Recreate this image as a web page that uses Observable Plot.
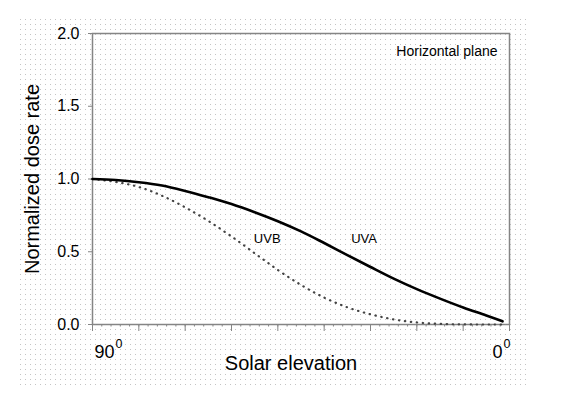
<!DOCTYPE html>
<html><head><meta charset="utf-8">
<script src="https://cdn.jsdelivr.net/npm/d3@7"></script>
<script src="https://cdn.jsdelivr.net/npm/@observablehq/plot@0.6"></script>
<style>
html,body{margin:0;padding:0;background:#fff;}
#wrap{position:relative;width:572px;height:395px;overflow:hidden;}
#dots{position:absolute;left:20px;top:19px;width:506px;height:368px;
  background-image:url("data:image/svg+xml,%3Csvg xmlns='http://www.w3.org/2000/svg' width='5' height='5'%3E%3Crect width='1' height='1' fill='%23c4c4c4'/%3E%3C/svg%3E");}
#chart{position:absolute;left:0;top:0;}
</style></head><body>
<div id="wrap"><div id="dots"></div><div id="chart"></div></div>
<script>
// Solar elevation (degrees) and normalized dose rate
const uvaElevation = [90, 85, 80, 75, 70, 65, 60, 55, 50, 45, 40, 35, 30, 25, 20, 15, 10, 5, 1.5];
const uvaRate      = [1.0, 0.993, 0.978, 0.955, 0.918, 0.875, 0.828, 0.772, 0.71, 0.64, 0.56, 0.477, 0.395, 0.315, 0.243, 0.178, 0.117, 0.062, 0.022];
const uvbElevation = [90, 85, 80, 75, 70, 65, 60, 55, 50, 45, 40, 35, 30, 25, 20, 15, 10, 5, 1.5];
const uvbRate      = [1.0, 0.98, 0.945, 0.885, 0.805, 0.712, 0.605, 0.49, 0.375, 0.272, 0.185, 0.118, 0.07, 0.035, 0.014, 0.004, 0.001, 0, 0];

const seriesLabels = ["UVB", "UVA"];
const labelElevation = [52.3, 31.4];
const labelRate = [0.59, 0.59];

const yTicks = [0, 0.5, 1.0, 1.5, 2.0];
const xMajorTicks = [90, 80, 70, 60, 50, 40, 30, 20, 10, 0];
const xMinorTicks = d3.range(0, 91, 2);
const xLabelStart = [90];
const xLabelEnd = [0];
const panelNote = "Horizontal plane";
const xTitle = "Solar elevation";
const yTitle = "Normalized dose rate";

const uva = uvaElevation.map((e, i) => ({e, v: uvaRate[i]}));
const uvb = uvbElevation.map((e, i) => ({e, v: uvbRate[i]}));
const labels = seriesLabels.map((t, i) => ({t, e: labelElevation[i], v: labelRate[i]}));

const font = "Liberation Sans, Arial, Helvetica, sans-serif";
const axisGray = "#858585";

const svg = Plot.plot({
  width: 572,
  height: 395,
  marginLeft: 92,
  marginRight: 63,
  marginTop: 33,
  marginBottom: 71,
  style: {background: "transparent", fontFamily: font, color: "#000", overflow: "visible"},
  x: {domain: [90, 0], label: null},
  y: {domain: [0, 2], label: null},
  marks: [
    Plot.frame({stroke: axisGray, strokeWidth: 1.5}),
    Plot.axisY(yTicks, {
      tickSize: 4, tickPadding: 9, stroke: axisGray, fontSize: 16,
      tickFormat: d3.format(".1f"), label: null
    }),
    Plot.axisY([], {
      tickSize: 0, fontSize: 20,
      label: yTitle, labelAnchor: "center", labelOffset: 68, labelArrow: "none"
    }),
    Plot.axisX(xMinorTicks, {tickSize: 2.5, stroke: axisGray, tickFormat: () => "", label: null}),
    Plot.axisX(xMajorTicks, {tickSize: 7, stroke: axisGray, tickFormat: () => "", label: null}),
    Plot.axisX(xLabelStart, {tickSize: 0, tickPadding: 21, textAnchor: "start", dx: 2, fontSize: 18, tickFormat: d => String(d), label: null}),
    Plot.axisX(xLabelEnd, {tickSize: 0, tickPadding: 21, textAnchor: "end", dx: 1, fontSize: 18, tickFormat: d => String(d), label: null}),
    Plot.text([xTitle], {frameAnchor: "bottom", lineAnchor: "top", dx: -10, dy: 31, fontSize: 20, fill: "#000"}),
    Plot.text([panelNote], {frameAnchor: "top-right", dx: -12, dy: 13, fontSize: 14, fill: "#000"}),
    Plot.line(uvb, {x: "e", y: "v", curve: "monotone-x", stroke: "#444", strokeWidth: 2.2, strokeLinecap: "round", strokeDasharray: "0.4,5.6"}),
    Plot.line(uva, {x: "e", y: "v", curve: "monotone-x", stroke: "#000", strokeWidth: 2.6}),
    Plot.text(labels, {x: "e", y: "v", text: "t", fontSize: 13, fill: "#000"})
  ]
});

// superscript "0" after the end tick labels
d3.select(svg).selectAll('g[aria-label="x-axis tick label"] text').each(function () {
  const t = d3.select(this);
  if (t.text().trim() !== "") {
    t.append("tspan").attr("font-size", 12.5).attr("dx", 1).attr("dy", -10).text("0");
  }
});

document.getElementById("chart").appendChild(svg);
</script>
</body></html>
